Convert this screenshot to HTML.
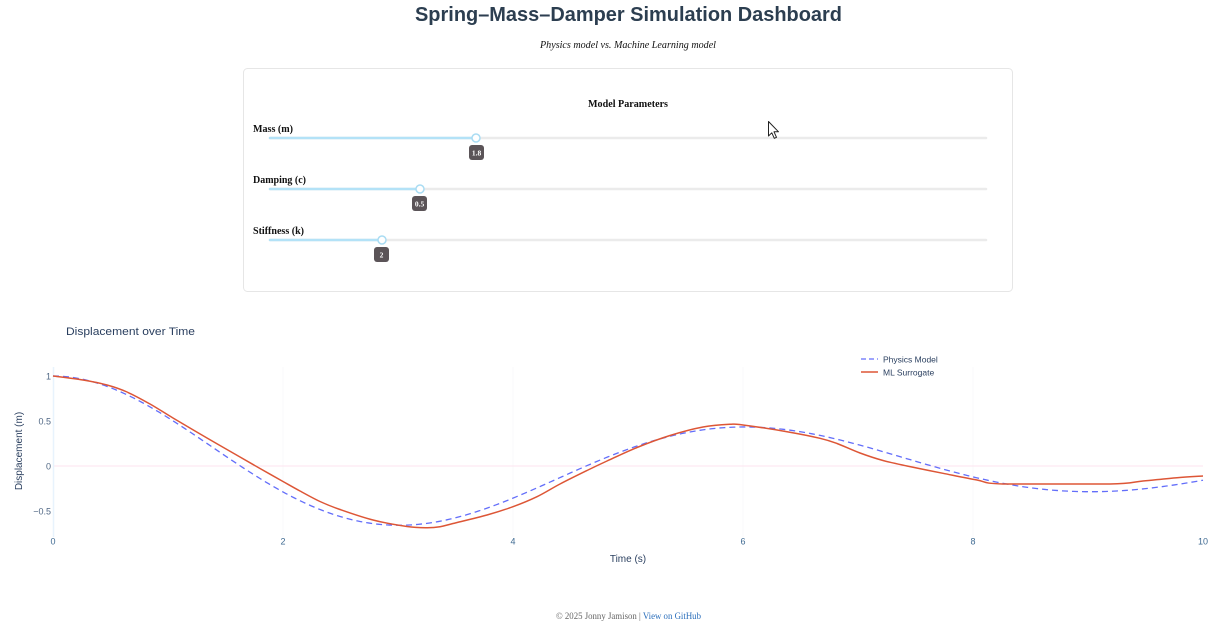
<!DOCTYPE html>
<html>
<head>
<meta charset="utf-8">
<style>
  html,body{margin:0;padding:0;background:#fff;width:1224px;height:642px;overflow:hidden;}
  svg{display:block;}
  .serif{font-family:"Liberation Serif",serif;}
  .sans{font-family:"Liberation Sans",sans-serif;}
</style>
</head>
<body>
<svg id="s" width="1224" height="642" viewBox="0 0 1224 642" xmlns="http://www.w3.org/2000/svg">
  <!-- Title -->
  <text x="628.5" y="21" text-anchor="middle" class="sans" font-weight="bold" font-size="20" fill="#2c3e50" textLength="427" lengthAdjust="spacingAndGlyphs">Spring–Mass–Damper Simulation Dashboard</text>
  <text x="628" y="48" text-anchor="middle" class="serif" font-style="italic" font-size="10" fill="#111" textLength="176" lengthAdjust="spacingAndGlyphs">Physics model vs. Machine Learning model</text>

  <!-- Panel -->
  <rect x="243.5" y="68.5" width="769" height="223" rx="4" ry="4" fill="#fff" stroke="#e6e6e6" stroke-width="1"/>
  <text x="628" y="107" text-anchor="middle" class="serif" font-weight="bold" font-size="10" fill="#111" textLength="80" lengthAdjust="spacingAndGlyphs">Model Parameters</text>

  <text x="253" y="132" class="serif" font-weight="bold" font-size="10" fill="#111" textLength="40" lengthAdjust="spacingAndGlyphs">Mass (m)</text>
  <text x="253" y="183" class="serif" font-weight="bold" font-size="10" fill="#111" textLength="53" lengthAdjust="spacingAndGlyphs">Damping (c)</text>
  <text x="253" y="234" class="serif" font-weight="bold" font-size="10" fill="#111" textLength="51" lengthAdjust="spacingAndGlyphs">Stiffness (k)</text>

  <!-- Slider 1 -->
  <line x1="270" y1="138" x2="986" y2="138" stroke="#ebebeb" stroke-width="2.5" stroke-linecap="round"/>
  <line x1="270" y1="138" x2="476" y2="138" stroke="#b3e2f7" stroke-width="2.5" stroke-linecap="round"/>
  <circle cx="476" cy="138" r="4" fill="#fff" stroke="#a9dcf3" stroke-width="1.5"/>
  <rect x="469" y="145" width="15" height="15" rx="3" fill="#5b5458"/>
  <text x="476.5" y="155.5" text-anchor="middle" class="serif" font-weight="bold" font-size="7.5" fill="#fff">1.8</text>

  <!-- Slider 2 -->
  <line x1="270" y1="189" x2="986" y2="189" stroke="#ebebeb" stroke-width="2.5" stroke-linecap="round"/>
  <line x1="270" y1="189" x2="420" y2="189" stroke="#b3e2f7" stroke-width="2.5" stroke-linecap="round"/>
  <circle cx="420" cy="189" r="4" fill="#fff" stroke="#a9dcf3" stroke-width="1.5"/>
  <rect x="412" y="196" width="15" height="15" rx="3" fill="#5b5458"/>
  <text x="419.5" y="206.5" text-anchor="middle" class="serif" font-weight="bold" font-size="7.5" fill="#fff">0.5</text>

  <!-- Slider 3 -->
  <line x1="270" y1="240" x2="986" y2="240" stroke="#ebebeb" stroke-width="2.5" stroke-linecap="round"/>
  <line x1="270" y1="240" x2="382" y2="240" stroke="#b3e2f7" stroke-width="2.5" stroke-linecap="round"/>
  <circle cx="382" cy="240" r="4" fill="#fff" stroke="#a9dcf3" stroke-width="1.5"/>
  <rect x="374" y="247" width="15" height="15" rx="3" fill="#5b5458"/>
  <text x="381.5" y="257.5" text-anchor="middle" class="serif" font-weight="bold" font-size="7.5" fill="#fff">2</text>

  <!-- Cursor -->
  <path d="M768.5,121.5 L768.5,136 L771.8,132.8 L774.3,138.3 L776.5,137.3 L774,131.8 L778.5,131.8 Z" fill="#fff" stroke="#222" stroke-width="1" stroke-linejoin="round"/>

  <!-- Chart -->
  <text x="66" y="335" class="sans" font-size="11" fill="#2a3f5f" textLength="129" lengthAdjust="spacingAndGlyphs">Displacement over Time</text>

  <!-- grid -->
  <g stroke="#fafafb" stroke-width="1">
    <line x1="283" y1="367" x2="283" y2="537"/>
    <line x1="513" y1="367" x2="513" y2="537"/>
    <line x1="743" y1="367" x2="743" y2="537"/>
    <line x1="973" y1="367" x2="973" y2="537"/>
  </g>
  <line x1="53" y1="466" x2="1203" y2="466" stroke="#fce3ef" stroke-width="1"/>
  <line x1="53.5" y1="367" x2="53.5" y2="537" stroke="#e8f3fd" stroke-width="1.5"/>

  <!-- y ticks -->
  <g class="sans" font-size="9" fill="#506784" text-anchor="end">
    <text x="51" y="379.5">1</text>
    <text x="51" y="424.5">0.5</text>
    <text x="51" y="469.5">0</text>
    <text x="51" y="514.5">−0.5</text>
  </g>
  <!-- x ticks -->
  <g class="sans" font-size="9" fill="#3f6a92" text-anchor="middle">
    <text x="53" y="544.5">0</text>
    <text x="283" y="544.5">2</text>
    <text x="513" y="544.5">4</text>
    <text x="743" y="544.5">6</text>
    <text x="973" y="544.5">8</text>
    <text x="1203" y="544.5">10</text>
  </g>
  <text x="628" y="562" text-anchor="middle" class="sans" font-size="10" fill="#2a3f5f">Time (s)</text>
  <text transform="translate(22,451) rotate(-90)" text-anchor="middle" class="sans" font-size="10" fill="#2a3f5f">Displacement (m)</text>

  <!-- series -->
  <path id="phys" d="" fill="none" stroke="#636efa" stroke-width="1.3" stroke-dasharray="6,4"/>
  <path id="ml" fill="none" stroke="#dd5636" stroke-width="1.5" stroke-linejoin="round"
    d="M53,376 L83,380 L107,385 L127,392 L150,404 L173,418 L207,438 L240,457 L260,468.5 L283,481.5 L300,491 L320,501.5 L340,509.5 L373,520 L407,526.5 L427,527.7 L440,526.7 L453,523.5 L487,515 L513,506.7 L537,496.7 L560,484 L587,470.5 L607,461 L637,447.5 L670,435.5 L703,427 L730,424.3 L743,425 L787,431.7 L820,438.3 L837,443.5 L860,453 L883,460.5 L907,466 L943,473.3 L977,480 L1003,484 L1110,484 L1143,481 L1177,477.7 L1203,476"/>

  <!-- legend -->
  <line x1="861" y1="359" x2="878" y2="359" stroke="#636efa" stroke-width="1.3" stroke-dasharray="5,3"/>
  <line x1="861" y1="372" x2="878" y2="372" stroke="#dd5636" stroke-width="1.5"/>
  <g class="sans" font-size="8.5" fill="#2a3f5f">
    <text x="883" y="362.5">Physics Model</text>
    <text x="883" y="375.5">ML Surrogate</text>
  </g>

  <!-- Footer -->
  <text x="628.5" y="619" text-anchor="middle" class="serif" font-size="9.5" textLength="145" lengthAdjust="spacingAndGlyphs"><tspan fill="#666">© 2025 Jonny Jamison | </tspan><tspan fill="#2a6ebb">View on GitHub</tspan></text>
</svg>
<script>
(function(){
  var m=1.8,c=0.5,k=2;
  var w0=Math.sqrt(k/m), z=c/(2*Math.sqrt(m*k)), a=z*w0, wd=w0*Math.sqrt(1-z*z);
  var d="";
  for(var i=0;i<=400;i++){
    var t=i*10/400;
    var x=Math.exp(-a*t)*(Math.cos(wd*t)+(a/wd)*Math.sin(wd*t));
    var px=53+t*115, py=466-x*90;
    d+=(i?" L":"M")+px.toFixed(2)+","+py.toFixed(2);
  }
  document.getElementById("phys").setAttribute("d",d);

  // smooth ML path with Catmull-Rom
  var el=document.getElementById("ml");
  var raw=el.getAttribute("d").replace(/[ML]/g," ").trim().split(/\s+/);
  var p=raw.map(function(s){var q=s.split(",");return [parseFloat(q[0]),parseFloat(q[1])];});
  var out="M"+p[0][0]+","+p[0][1];
  for(var j=0;j<p.length-1;j++){
    var p0=p[j>0?j-1:j], p1=p[j], p2=p[j+1], p3=p[j+2<p.length?j+2:j+1];
    var flat=(Math.abs(p1[1]-p2[1])<0.01 && (p2[0]-p1[0])>50);
    if(flat){ out+=" L"+p2[0]+","+p2[1]; continue; }
    var t=0.5/3*2; // tension factor 1/6 standard
    var c1x=p1[0]+(p2[0]-p0[0])/6, c1y=p1[1]+(p2[1]-p0[1])/6;
    var c2x=p2[0]-(p3[0]-p1[0])/6, c2y=p2[1]-(p3[1]-p1[1])/6;
    out+=" C"+c1x.toFixed(2)+","+c1y.toFixed(2)+" "+c2x.toFixed(2)+","+c2y.toFixed(2)+" "+p2[0]+","+p2[1];
  }
  el.setAttribute("d",out);
})();
</script>
</body>
</html>
